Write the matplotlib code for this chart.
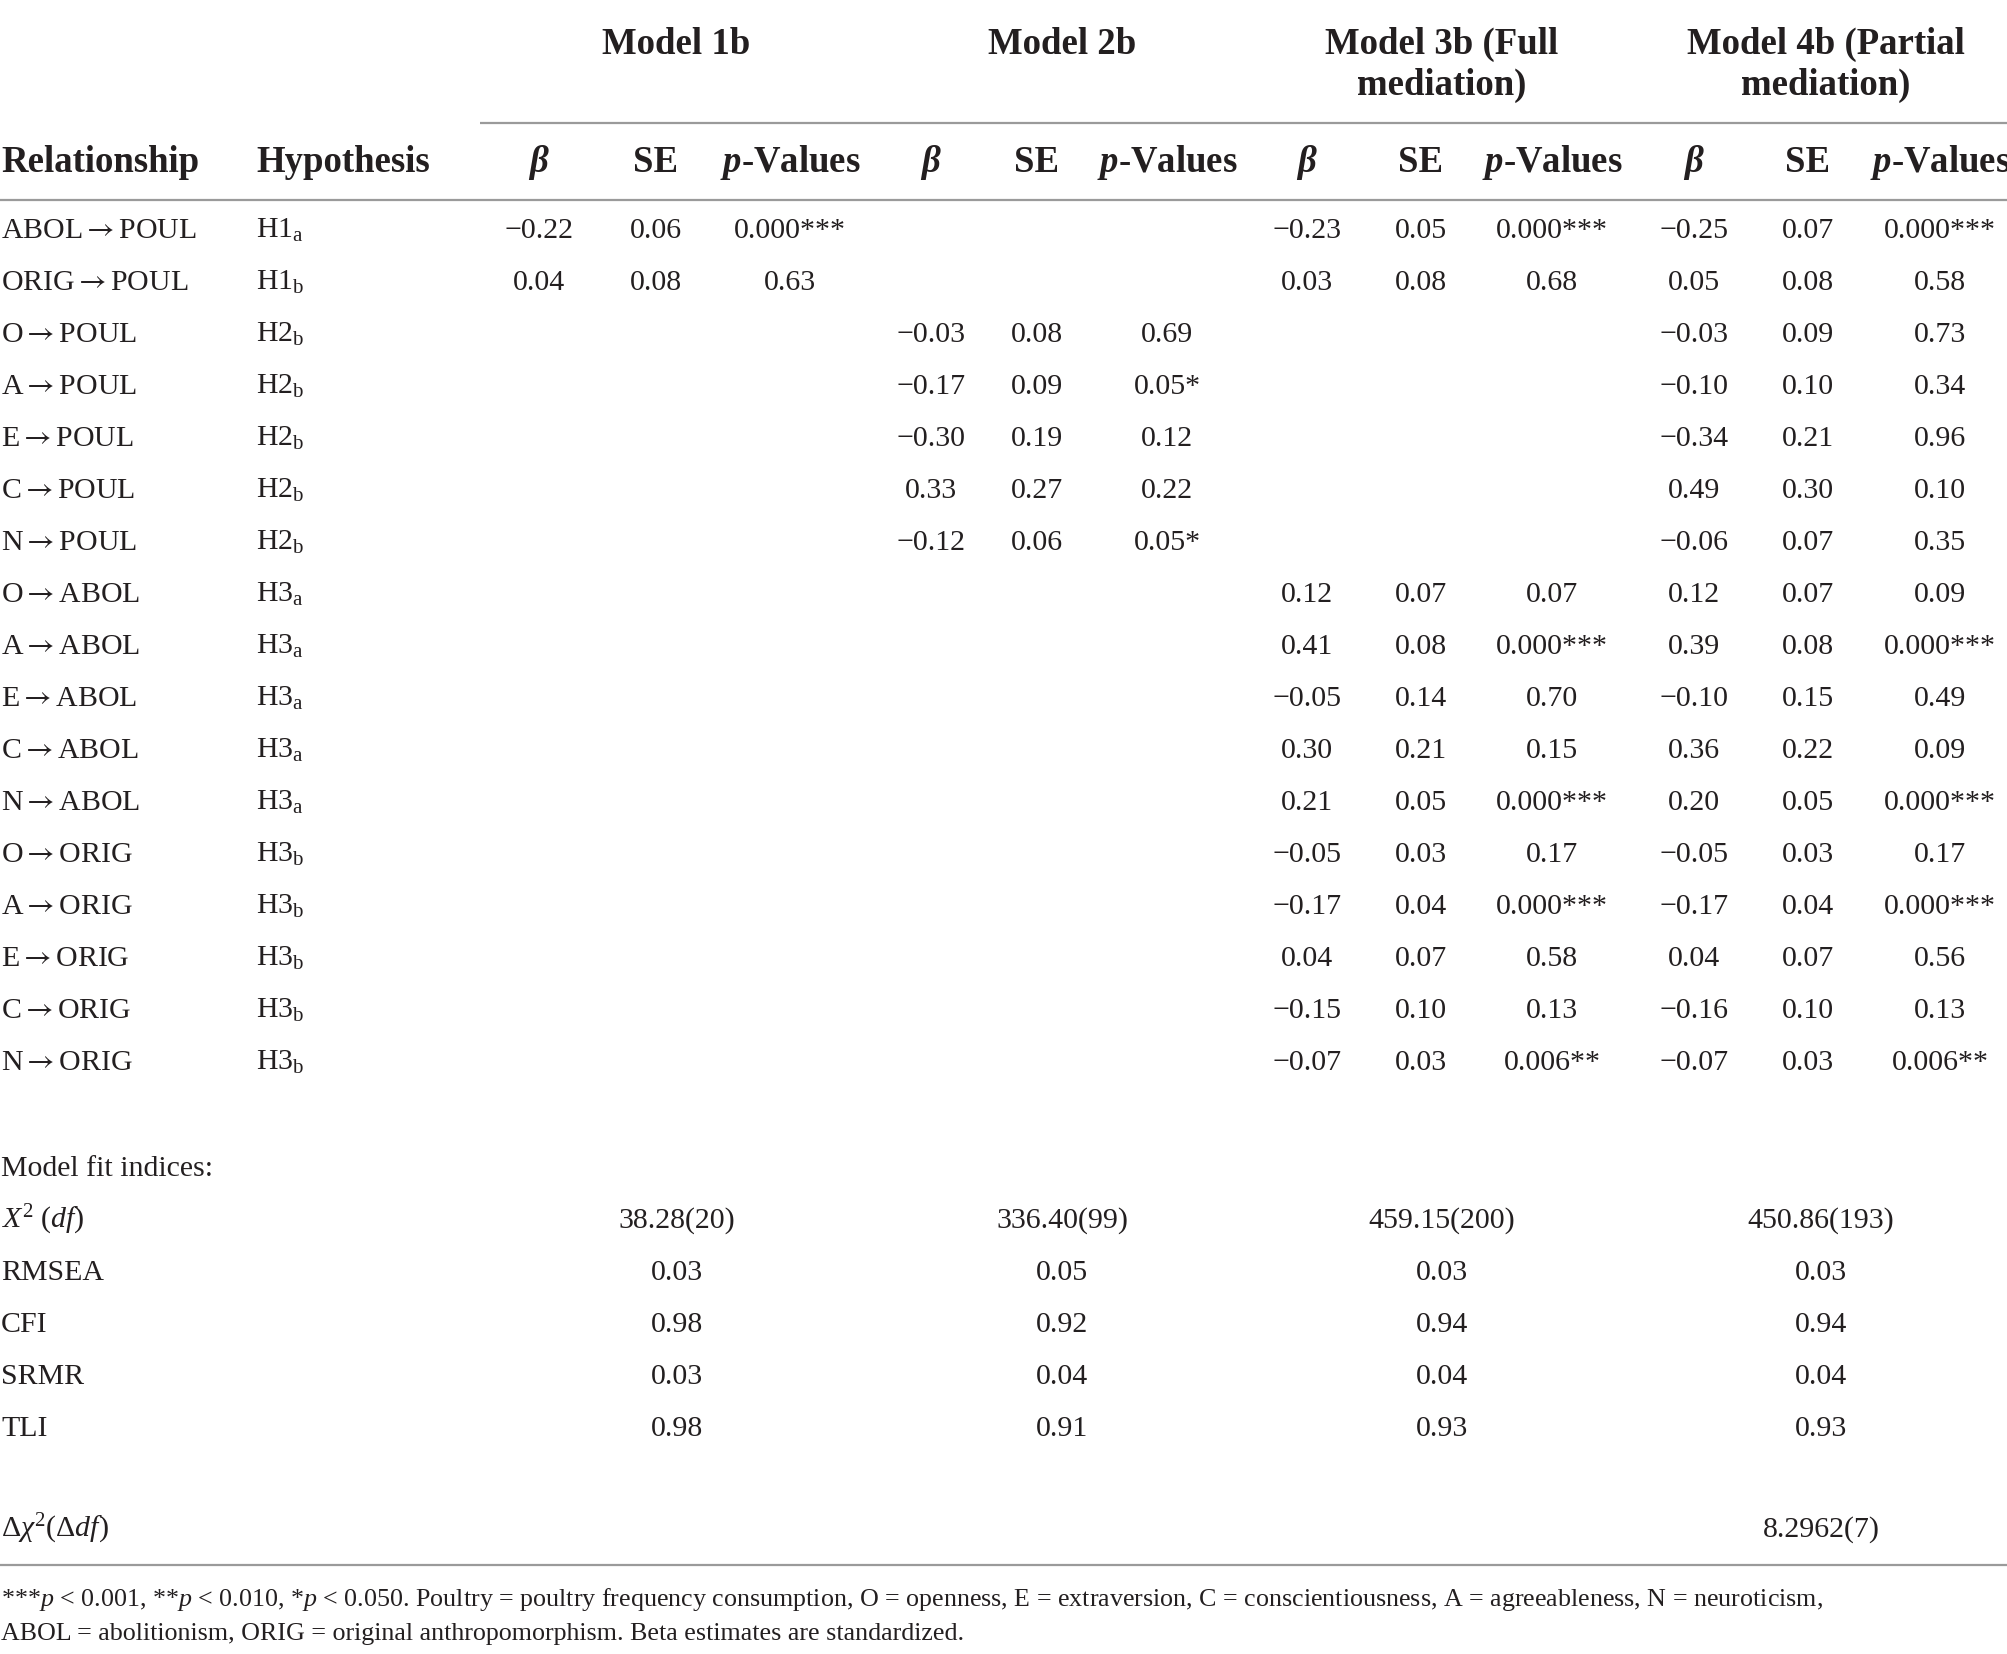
import matplotlib
matplotlib.use("Agg")
import matplotlib.pyplot as plt

plt.rcParams['font.family'] = ['Liberation Serif', 'DejaVu Serif']
plt.rcParams['mathtext.fontset'] = 'custom'
plt.rcParams['mathtext.rm'] = 'Liberation Serif'
plt.rcParams['mathtext.it'] = 'Liberation Serif:italic'
plt.rcParams['mathtext.bf'] = 'Liberation Serif:bold'
plt.rcParams['mathtext.bfit'] = 'Liberation Serif:italic:bold'
plt.rcParams['mathtext.sf'] = 'STIXGeneral'

ARROW = r"$\mathsf{\rightarrow}$"

# ---------------- data ----------------
model_names = ["Model 1b", "Model 2b", "Model 3b (Full\nmediation)", "Model 4b (Partial\nmediation)"]
sub_headers = ["β", "SE", r"$\mathbfit{p}$-Values"]

rel_from = ["ABOL", "ORIG", "O", "A", "E", "C", "N",
            "O", "A", "E", "C", "N", "O", "A", "E", "C", "N"]
rel_to = ["POUL", "POUL", "POUL", "POUL", "POUL", "POUL", "POUL",
          "ABOL", "ABOL", "ABOL", "ABOL", "ABOL", "ORIG", "ORIG", "ORIG", "ORIG", "ORIG"]
hyp_base = ["H1", "H1", "H2", "H2", "H2", "H2", "H2",
            "H3", "H3", "H3", "H3", "H3", "H3", "H3", "H3", "H3", "H3"]
hyp_sub = ["a", "b", "b", "b", "b", "b", "b",
           "a", "a", "a", "a", "a", "b", "b", "b", "b", "b"]

m1_beta = ["\u22120.22", "0.04"] + [""] * 15
m1_se = ["0.06", "0.08"] + [""] * 15
m1_p = ["0.000***", "0.63"] + [""] * 15

m2_beta = ["", "", "\u22120.03", "\u22120.17", "\u22120.30", "0.33", "\u22120.12"] + [""] * 10
m2_se = ["", "", "0.08", "0.09", "0.19", "0.27", "0.06"] + [""] * 10
m2_p = ["", "", "0.69", "0.05*", "0.12", "0.22", "0.05*"] + [""] * 10

m3_beta = ["\u22120.23", "0.03", "", "", "", "", "",
           "0.12", "0.41", "\u22120.05", "0.30", "0.21",
           "\u22120.05", "\u22120.17", "0.04", "\u22120.15", "\u22120.07"]
m3_se = ["0.05", "0.08", "", "", "", "", "",
         "0.07", "0.08", "0.14", "0.21", "0.05",
         "0.03", "0.04", "0.07", "0.10", "0.03"]
m3_p = ["0.000***", "0.68", "", "", "", "", "",
        "0.07", "0.000***", "0.70", "0.15", "0.000***",
        "0.17", "0.000***", "0.58", "0.13", "0.006**"]

m4_beta = ["\u22120.25", "0.05", "\u22120.03", "\u22120.10", "\u22120.34", "0.49", "\u22120.06",
           "0.12", "0.39", "\u22120.10", "0.36", "0.20",
           "\u22120.05", "\u22120.17", "0.04", "\u22120.16", "\u22120.07"]
m4_se = ["0.07", "0.08", "0.09", "0.10", "0.21", "0.30", "0.07",
         "0.07", "0.08", "0.15", "0.22", "0.05",
         "0.03", "0.04", "0.07", "0.10", "0.03"]
m4_p = ["0.000***", "0.58", "0.73", "0.34", "0.96", "0.10", "0.35",
        "0.09", "0.000***", "0.49", "0.09", "0.000***",
        "0.17", "0.000***", "0.56", "0.13", "0.006**"]

fit_labels = [r"$X^{2}$ ($df$)", "RMSEA", "CFI", "SRMR", "TLI"]
fit_chi2 = ["38.28(20)", "336.40(99)", "459.15(200)", "450.86(193)"]
fit_rmsea = ["0.03", "0.05", "0.03", "0.03"]
fit_cfi = ["0.98", "0.92", "0.94", "0.94"]
fit_srmr = ["0.03", "0.04", "0.04", "0.04"]
fit_tli = ["0.98", "0.91", "0.93", "0.93"]
delta_label = r"$\Delta\chi^{2}(\Delta df)$"
delta_vals = ["", "", "", "8.2962(7)"]

footnote = [r"***$p$ < 0.001, **$p$ < 0.010, *$p$ < 0.050. Poultry = poultry frequency consumption, "
            r"O = openness, E = extraversion, C = conscientiousness, A = agreeableness, N = neuroticism,",
            "ABOL = abolitionism, ORIG = original anthropomorphism. Beta estimates are standardized."]

# ---------------- layout ----------------
W, H = 2008, 1654
fig = plt.figure(figsize=(W / 100, H / 100), dpi=100)
ax = fig.add_axes([0, 0, 1, 1])
ax.set_xlim(0, W)
ax.set_ylim(H, 0)
ax.axis('off')

TXT = '#231f20'
LINE = '#9a9a9a'
FS = 21.5
FS_H = 26.5
FS_N = 18.7
B_OFF = 10      # baseline offset (px) for body text to centre digits on a row
B_OFF_H = 12    # same for header text

x_rel, x_hyp = 1, 256
col_x = [[539, 656, 790], [931, 1037, 1167], [1307, 1421, 1552], [1694, 1808, 1940]]
model_x = [676, 1062, 1442, 1826]
fit_x = [677, 1062, 1442, 1821]


def body(x, y, s, ha='center'):
    ax.text(x, y + B_OFF, s, ha=ha, va='baseline', fontsize=FS, color=TXT)


def head(x, y, s, ha='center', style='normal'):
    ax.text(x, y + B_OFF_H, s, ha=ha, va='baseline', fontsize=FS_H,
            fontweight='bold', fontstyle=style, color=TXT)


# model headers
for name, mx in zip(model_names, model_x):
    for i, line in enumerate(name.split("\n")):
        head(mx, 42 + i * 41, line)

ax.plot([480, W], [123, 123], color=LINE, lw=1.6, solid_capstyle='butt')

# column headers
y_h = 160
head(x_rel, y_h, "Relationship", ha='left')
head(x_hyp, y_h, "Hypothesis", ha='left')
for cols in col_x:
    head(cols[0], y_h, sub_headers[0], style='italic')
    head(cols[1], y_h, sub_headers[1])
    head(cols[2], y_h, sub_headers[2])

ax.plot([0, W], [200, 200], color=LINE, lw=1.6, solid_capstyle='butt')

# body rows
y0, dy = 228, 52.0
models = [(m1_beta, m1_se, m1_p), (m2_beta, m2_se, m2_p),
          (m3_beta, m3_se, m3_p), (m4_beta, m4_se, m4_p)]
for r, (rf, rt, hb, hs) in enumerate(zip(rel_from, rel_to, hyp_base, hyp_sub)):
    y = y0 + r * dy
    body(x_rel, y, rf + ARROW + rt, ha='left')
    body(x_hyp, y, hb + r"$_{\mathrm{" + hs + "}}$", ha='left')
    for (b, s, p), cols in zip(models, col_x):
        for val, cx in zip((b[r], s[r], p[r]), cols):
            if val:
                body(cx, y, val)

# model fit
y_fit = 1166
body(x_rel, y_fit, "Model fit indices:", ha='left')
fit_rows = [fit_chi2, fit_rmsea, fit_cfi, fit_srmr, fit_tli]
for i, (lab, vals) in enumerate(zip(fit_labels, fit_rows)):
    y = y_fit + (i + 1) * dy
    body(x_rel, y, lab, ha='left')
    for v, fx in zip(vals, fit_x):
        body(fx, y, v)

y_d = 1527
body(x_rel, y_d, delta_label, ha='left')
for v, fx in zip(delta_vals, fit_x):
    if v:
        body(fx, y_d, v)

ax.plot([0, W], [1565, 1565], color=LINE, lw=1.6, solid_capstyle='butt')

for i, line in enumerate(footnote):
    ax.text(x_rel, 1598 + i * 34 + 8, line, ha='left', va='baseline', fontsize=FS_N, color=TXT)

fig.savefig("out.png", dpi=100, facecolor='white')
